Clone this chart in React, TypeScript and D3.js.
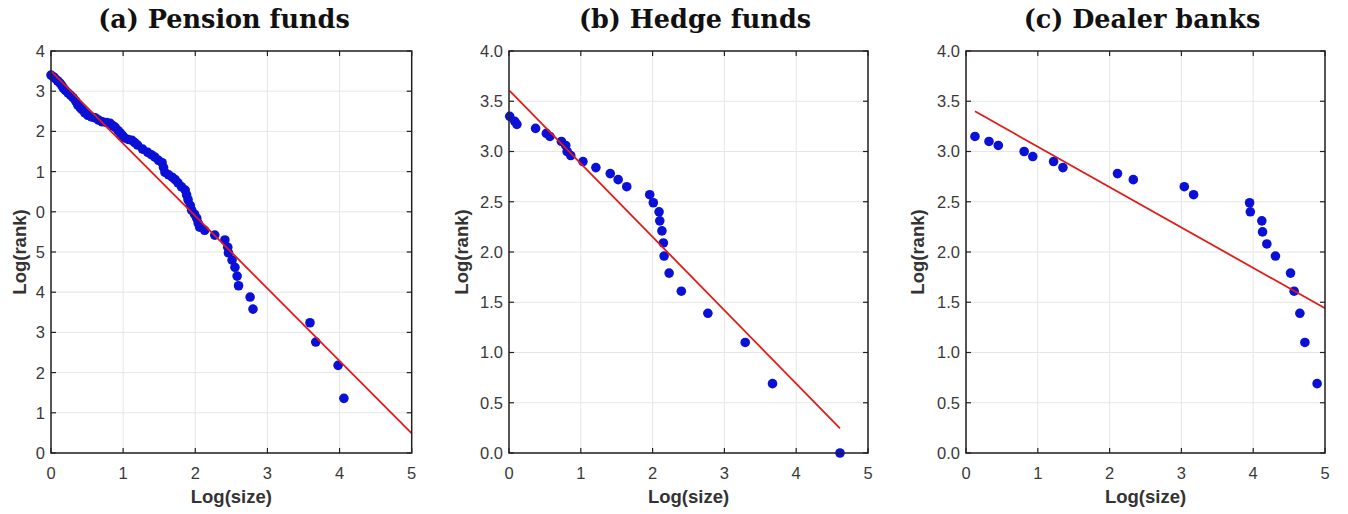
import React from 'react';
import * as d3 from 'd3';

// ---- data ----
const xTicks = [0, 1, 2, 3, 4, 5];
const yTicksPension = [0, 0.5, 1, 1.5, 2, 2.5, 3, 3.5, 4, 4.5, 5];
const yTickLabelsPension = ['0', '1', '2', '3', '4', '5', '0', '1', '2', '3', '4'];
const yTicksOther = [0, 0.5, 1, 1.5, 2, 2.5, 3, 3.5, 4];

const pensionLogSize = [
  0.0, 0.03, 0.055, 0.09, 0.125, 0.15, 0.17, 0.2, 0.235, 0.27, 0.305, 0.34, 0.37, 0.4, 0.43,
  0.47, 0.51, 0.56, 0.61, 0.66, 0.71, 0.77, 0.82, 0.86, 0.89, 0.93, 0.96, 0.99, 1.02, 1.07,
  1.12, 1.16, 1.2, 1.27, 1.34, 1.39, 1.44, 1.49, 1.54, 1.56, 1.58, 1.63, 1.68, 1.72, 1.76,
  1.81, 1.86, 1.88, 1.9, 1.93, 1.95, 1.99, 2.02, 2.04, 2.06, 2.13, 2.27, 2.41, 2.45, 2.46,
  2.51, 2.55, 2.58, 2.6, 2.76, 2.8, 3.59, 3.67, 3.98, 4.06,
];
const pensionLogRank = [
  4.7, 4.68, 4.66, 4.63, 4.6, 4.57, 4.54, 4.51, 4.48, 4.45, 4.42, 4.38, 4.33, 4.3, 4.27,
  4.23, 4.2, 4.18, 4.17, 4.14, 4.12, 4.11, 4.1, 4.07, 4.05, 4.01, 3.98, 3.95, 3.92, 3.9,
  3.89, 3.86, 3.83, 3.78, 3.74, 3.71, 3.68, 3.64, 3.61, 3.55, 3.49, 3.46, 3.43, 3.4, 3.36,
  3.31, 3.27, 3.21, 3.15, 3.08, 3.02, 2.97, 2.92, 2.86, 2.81, 2.77, 2.71, 2.65, 2.56, 2.49,
  2.4, 2.31, 2.2, 2.08, 1.94, 1.79, 1.62, 1.38, 1.09, 0.68,
];
const pensionFit = [4.75, -0.901];
const pensionFitSpan = [0, 5];

const hedgeLogSize = [
  0.01, 0.08, 0.11, 0.37, 0.52, 0.57, 0.73, 0.79, 0.81, 0.86, 1.03, 1.21, 1.41, 1.52,
  1.64, 1.96, 2.01, 2.09, 2.1, 2.13, 2.15, 2.16, 2.23, 2.4, 2.77, 3.29, 3.67, 4.61,
];
const hedgeLogRank = [
  3.35, 3.3, 3.27, 3.23, 3.18, 3.15, 3.1, 3.06, 3.0, 2.96, 2.9, 2.84, 2.78, 2.72,
  2.65, 2.57, 2.49, 2.4, 2.31, 2.21, 2.09, 1.96, 1.79, 1.61, 1.39, 1.1, 0.69, 0.0,
];
const hedgeFit = [3.61, -0.73];
const hedgeFitSpan = [0.01, 4.61];

const dealerLogSize = [
  0.125, 0.32, 0.45, 0.81, 0.93, 1.22, 1.35, 2.11, 2.33, 3.04, 3.17, 3.95, 3.96, 4.12,
  4.13, 4.19, 4.31, 4.52, 4.57, 4.65, 4.72, 4.89,
];
const dealerLogRank = [
  3.15, 3.1, 3.06, 3.0, 2.95, 2.9, 2.84, 2.78, 2.72, 2.65, 2.57, 2.49, 2.4, 2.31,
  2.2, 2.08, 1.96, 1.79, 1.61, 1.39, 1.1, 0.69,
];
const dealerFit = [3.45, -0.402];
const dealerFitSpan = [0.125, 5];

// ---- layout ----
const W = 1348;
const H = 514;
const TOP = 51;
const BOTTOM = 453;
const TICK_FONT = '"Liberation Sans", Arial, sans-serif';
const AXIS_COLOR = '#222';
const GRID_COLOR = '#e6e6e6';
const DOT_COLOR = '#0a10d6';
const LINE_COLOR = '#e01b1b';

type PanelProps = {
  left: number;
  right: number;
  title: string;
  titleX: number;
  yLabelX: number;
  yMax: number;
  yTicks: number[];
  yTickLabels: string[];
  xs: number[];
  ys: number[];
  fit: number[];
  span: number[];
};

function Panel(p: PanelProps) {
  const x = d3.scaleLinear().domain([0, 5]).range([p.left, p.right]);
  const y = d3.scaleLinear().domain([0, p.yMax]).range([BOTTOM, TOP]);
  const fitPath = d3.line()(
    p.span.map((v) => [x(v), y(p.fit[0] + p.fit[1] * v)] as [number, number])
  ) as string;
  const tl = 5;
  return (
    <g>
      <text
        x={p.titleX}
        y={28}
        textAnchor="middle"
        fontFamily='"DejaVu Serif", serif'
        fontWeight="bold"
        fontSize={25.5}
        fill="#111"
      >
        {p.title}
      </text>
      {/* grid */}
      {xTicks.map((t) => (
        <line key={'gx' + t} x1={x(t)} x2={x(t)} y1={TOP} y2={BOTTOM} stroke={GRID_COLOR} strokeWidth={1} />
      ))}
      {p.yTicks.map((t) => (
        <line key={'gy' + t} x1={p.left} x2={p.right} y1={y(t)} y2={y(t)} stroke={GRID_COLOR} strokeWidth={1} />
      ))}
      {/* data */}
      {p.xs.map((v, i) => (
        <circle key={'d' + i} cx={x(v)} cy={y(p.ys[i])} r={4.8} fill={DOT_COLOR} />
      ))}
      <path d={fitPath} fill="none" stroke={LINE_COLOR} strokeWidth={1.8} />
      {/* box */}
      <rect
        x={p.left}
        y={TOP}
        width={p.right - p.left}
        height={BOTTOM - TOP}
        fill="none"
        stroke={AXIS_COLOR}
        strokeWidth={1.5}
      />
      {/* ticks */}
      {xTicks.map((t) => (
        <g key={'tx' + t}>
          <line x1={x(t)} x2={x(t)} y1={BOTTOM} y2={BOTTOM - tl} stroke={AXIS_COLOR} strokeWidth={1.2} />
          <line x1={x(t)} x2={x(t)} y1={TOP} y2={TOP + tl} stroke={AXIS_COLOR} strokeWidth={1.2} />
          <text
            x={x(t)}
            y={479}
            textAnchor="middle"
            fontFamily={TICK_FONT}
            fontSize={16.5}
            fill="#3a3a3a"
          >
            {t}
          </text>
        </g>
      ))}
      {p.yTicks.map((t, i) => (
        <g key={'ty' + t}>
          <line x1={p.left} x2={p.left + tl} y1={y(t)} y2={y(t)} stroke={AXIS_COLOR} strokeWidth={1.2} />
          <line x1={p.right} x2={p.right - tl} y1={y(t)} y2={y(t)} stroke={AXIS_COLOR} strokeWidth={1.2} />
          <text
            x={p.left - 6}
            y={y(t)}
            dy="0.36em"
            textAnchor="end"
            fontFamily={TICK_FONT}
            fontSize={16.5}
            fill="#3a3a3a"
          >
            {p.yTickLabels[i]}
          </text>
        </g>
      ))}
      <text
        x={(p.left + p.right) / 2}
        y={503}
        textAnchor="middle"
        fontFamily={TICK_FONT}
        fontWeight="bold"
        fontSize={18.5}
        fill="#333"
      >
        Log(size)
      </text>
      <text
        transform={`translate(${p.yLabelX},${(TOP + BOTTOM) / 2}) rotate(-90)`}
        textAnchor="middle"
        dy="0.35em"
        fontFamily={TICK_FONT}
        fontWeight="bold"
        fontSize={18.5}
        fill="#333"
      >
        Log(rank)
      </text>
    </g>
  );
}

export default function App() {
  const fmt = d3.format('.1f');
  const otherLabels = yTicksOther.map((t) => fmt(t));
  return (
    <svg
      width={W}
      height={H}
      viewBox={`0 0 ${W} ${H}`}
      style={{ position: 'absolute', left: 0, top: 0, background: '#fff' }}
    >
      <rect width={W} height={H} fill="#fff" />
      <Panel
        left={51}
        right={411.7}
        title="(a) Pension funds"
        titleX={224}
        yLabelX={20}
        yMax={5}
        yTicks={yTicksPension}
        yTickLabels={yTickLabelsPension}
        xs={pensionLogSize}
        ys={pensionLogRank}
        fit={pensionFit}
        span={pensionFitSpan}
      />
      <Panel
        left={509}
        right={868}
        title="(b) Hedge funds"
        titleX={695}
        yLabelX={462}
        yMax={4}
        yTicks={yTicksOther}
        yTickLabels={otherLabels}
        xs={hedgeLogSize}
        ys={hedgeLogRank}
        fit={hedgeFit}
        span={hedgeFitSpan}
      />
      <Panel
        left={966}
        right={1325}
        title="(c) Dealer banks"
        titleX={1142}
        yLabelX={918}
        yMax={4}
        yTicks={yTicksOther}
        yTickLabels={otherLabels}
        xs={dealerLogSize}
        ys={dealerLogRank}
        fit={dealerFit}
        span={dealerFitSpan}
      />
    </svg>
  );
}
